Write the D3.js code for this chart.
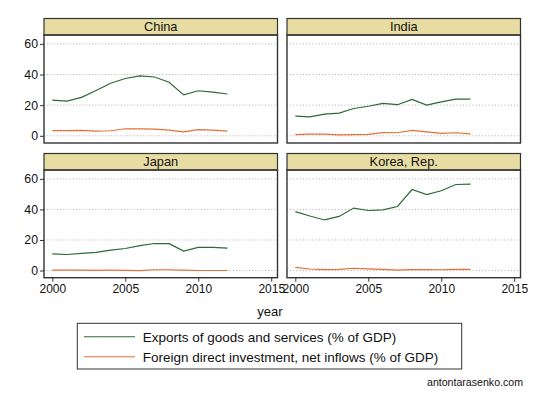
<!DOCTYPE html>
<html><head><meta charset="utf-8">
<script src="https://cdn.jsdelivr.net/npm/d3@7"></script>
<style>body{margin:0;background:#fff;} text{font-family:"Liberation Sans",Arial,sans-serif;}</style>
</head><body><svg id="c" width="540" height="405"></svg>
<script>
const years = [2000,2001,2002,2003,2004,2005,2006,2007,2008,2009,2010,2011,2012];
const countries = ["China","India","Japan","Korea, Rep."];
const exportsChina = [23.3,22.6,25.1,29.6,34.3,37.4,39.1,38.4,35.0,26.7,29.4,28.5,27.3];
const fdiChina     = [3.4,3.4,3.5,3.1,3.3,4.6,4.5,4.4,3.7,2.6,4.0,3.7,3.1];
const exportsIndia = [12.8,12.3,14.1,14.8,17.8,19.3,21.1,20.3,23.7,20.0,22.2,23.9,23.9];
const fdiIndia     = [0.8,1.1,1.1,0.6,0.8,0.9,2.1,2.0,3.6,2.6,1.6,2.0,1.3];
const exportsJapan = [10.9,10.5,11.2,11.9,13.3,14.4,16.3,17.7,17.6,12.7,15.1,15.1,14.7];
const fdiJapan     = [0.2,0.2,0.2,0.1,0.2,0.1,-0.1,0.5,0.5,0.2,0.0,0.0,0.0];
const exportsKorea = [38.6,35.7,33.1,35.4,40.9,39.3,39.7,41.9,53.0,49.7,52.2,56.3,56.5];
const fdiKorea     = [2.0,1.0,0.6,0.8,1.5,1.1,0.7,0.3,0.6,0.6,0.5,0.7,0.8];
const yTicks = [0,20,40,60];
const xTicks = [2000,2005,2010,2015];
const seriesNames = ["Exports of goods and services (% of GDP)","Foreign direct investment, net inflows (% of GDP)"];
const exportsAll = [exportsChina,exportsIndia,exportsJapan,exportsKorea];
const fdiAll = [fdiChina,fdiIndia,fdiJapan,fdiKorea];
const colors = ["#2b6a36","#e4703a"];

const svg = d3.select("#c");
const panelX = [[44,277.5],[287,520.5]];
const panelY = [[18.5,35,143],[153.5,170,277.7]];
const font = '"Liberation Sans",Arial,sans-serif';

countries.forEach((name,i)=>{
  const col = i%2, row = Math.floor(i/2);
  const [x0,x1] = panelX[col];
  const [hTop,pTop,pBot] = panelY[row];
  const x = d3.scaleLinear().domain([1999.43,2015.43]).range([x0,x1]);
  const y = d3.scaleLinear().domain([-4.7,65.8]).range([pBot,pTop]);
  const g = svg.append("g");
  g.selectAll("line.grid").data(yTicks).join("line")
    .attr("x1",x0).attr("x2",x1).attr("y1",d=>y(d)).attr("y2",d=>y(d))
    .attr("stroke","#999").attr("stroke-width",0.8).attr("stroke-dasharray","1,2.2");
  [exportsAll[i],fdiAll[i]].forEach((vals,k)=>{
    const line = d3.line().x((d,j)=>x(years[j])).y(d=>y(d));
    g.append("path").datum(vals).attr("d",line).attr("fill","none")
      .attr("stroke",colors[k]).attr("stroke-width",1.2);
  });
  g.append("rect").attr("x",x0).attr("y",hTop).attr("width",x1-x0).attr("height",pTop-hTop)
    .attr("fill","#e7dca2").attr("stroke","#333").attr("stroke-width",1.2);
  g.append("text").attr("x",(x0+x1)/2).attr("y",(hTop+pTop)/2+4.5).attr("text-anchor","middle")
    .attr("font-size",12.8).attr("fill","#111").text(name);
  g.append("rect").attr("x",x0).attr("y",pTop).attr("width",x1-x0).attr("height",pBot-pTop)
    .attr("fill","none").attr("stroke","#333").attr("stroke-width",1.4);
  if(col===0){
    const ax = d3.axisLeft(y).tickValues(yTicks).tickSize(4).tickPadding(2);
    const a = g.append("g").attr("transform",`translate(${x0},0)`).call(ax);
    a.select(".domain").remove();
    a.selectAll("line").attr("stroke","#333");
    a.selectAll("text").attr("font-size",12.3).attr("font-family",font).attr("fill","#111");
  }
  if(row===1){
    const ax = d3.axisBottom(x).tickValues(xTicks).tickFormat(d3.format("d")).tickSize(4).tickPadding(3);
    const a = g.append("g").attr("transform",`translate(0,${pBot})`).call(ax);
    a.select(".domain").remove();
    a.selectAll("line").attr("stroke","#333");
    a.selectAll("text").attr("font-size",12).attr("font-family",font).attr("fill","#111");
  }
});

svg.append("text").attr("x",270).attr("y",315.5).attr("text-anchor","middle")
  .attr("font-size",13).attr("fill","#111").text("year");

svg.append("rect").attr("x",77.3).attr("y",323.3).attr("width",384.4).attr("height",45.7)
  .attr("fill","#fff").attr("stroke","#333").attr("stroke-width",1);
seriesNames.forEach((s,k)=>{
  const yy = 336.7 + k*20;
  svg.append("line").attr("x1",84).attr("x2",135).attr("y1",yy).attr("y2",yy)
    .attr("stroke",colors[k]).attr("stroke-width",1.1);
  svg.append("text").attr("x",142.7).attr("y",yy+4.8).attr("font-size",13.5).attr("fill","#111").text(s);
});
svg.append("text").attr("x",523).attr("y",385.5).attr("text-anchor","end")
  .attr("font-size",10.6).attr("fill","#111").text("antontarasenko.com");
</script></body></html>
